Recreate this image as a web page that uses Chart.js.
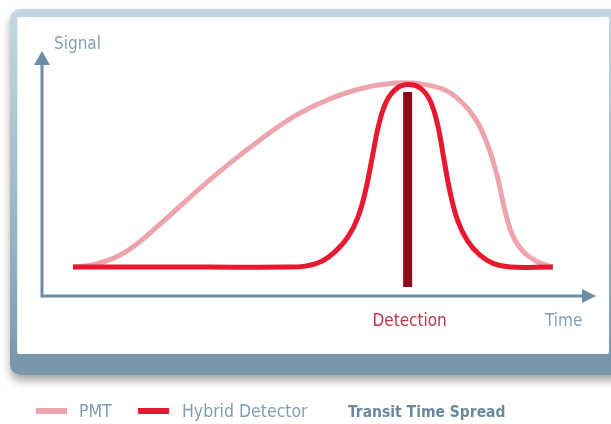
<!DOCTYPE html>
<html lang="en">
<head>
  <meta charset="UTF-8" />
  <title>Transit Time Spread</title>
  <script src="https://cdn.jsdelivr.net/npm/chart.js"></script>
  <style>
    html, body {
      margin: 0;
      padding: 0;
      width: 611px;
      height: 424px;
      overflow: hidden;
      background: #fff;
    }
    .frame {
      position: absolute;
      left: 10px;
      top: 9px;
      width: 640px;
      height: 366px;
      border-radius: 10px;
      background: linear-gradient(to bottom, #c3d5e1 0px, #c3d5e1 8px, #a9bfcd 150px, #86a0b3 320px, #7a96aa 345px);
      box-shadow: 0 6px 8px rgba(0,0,0,0.33);
    }
    .frame .inner {
      position: absolute;
      left: 8px;
      top: 8px;
      width: 591px;
      height: 337px;
      background: #fff;
      border-radius: 2px;
      box-shadow: -1px 0 0 #e6eef3;
    }
    canvas {
      position: absolute;
      left: 0;
      top: 0;
    }
  </style>
</head>
<body>
  <div class="frame"><div class="inner"></div></div>
  <canvas id="ttsChart" width="611" height="424"></canvas>

  <script>
    // time (0-100) / signal (0-100)
    const pmtTime   = [5.6, 10.0, 15.3, 21.3, 27.3, 33.4, 39.4, 45.5, 51.5, 57.5, 63.7, 68.2, 72.5, 75.5, 78.2, 80.3, 82.1, 83.5, 84.9, 86.8, 89.4, 92.2];
    const pmtSignal = [11.8, 13.2, 18.3, 29.3, 41.5, 53.3, 63.8, 73.3, 80.0, 84.6, 86.9, 86.6, 84.3, 79.7, 72.4, 62.5, 49.6, 35.5, 25.0, 18.3, 14.0, 11.8];

    const hybridTime   = [5.6, 30.0, 44.0, 47.5, 50.5, 53.0, 55.2, 57.0, 58.4, 59.6, 60.8, 62.2, 64.0, 66.1, 68.2, 70.0, 71.4, 72.5, 73.6, 75.0, 76.8, 79.0, 81.5, 84.5, 92.2];
    const hybridSignal = [11.8, 11.8, 11.8, 12.2, 14.2, 18.3, 24.0, 32.0, 43.0, 56.5, 70.0, 79.5, 84.7, 86.3, 85.0, 80.0, 70.0, 56.5, 43.0, 31.0, 22.5, 16.8, 13.2, 11.8, 11.8];

    const detectionTime = 66.0;
    const detectionSignal = [3.7, 83.3];

    const axisLabels = { y: "Signal", x: "Time", marker: "Detection" };
    const footnote = "Transit Time Spread";

    const FONT = '"DejaVu Sans Condensed", "DejaVu Sans", sans-serif';
    const AXIS = "#6b8ea4";

    function toPoints(xs, ys) {
      return xs.map((x, i) => ({ x: x, y: ys[i] }));
    }

    const decorations = {
      id: "decorations",
      beforeDatasetsDraw(chart) {
        const ctx = chart.ctx;
        const a = chart.chartArea;
        ctx.save();
        ctx.strokeStyle = AXIS;
        ctx.fillStyle = AXIS;
        ctx.lineWidth = 3;
        ctx.beginPath();
        ctx.moveTo(a.left, a.top + 12);
        ctx.lineTo(a.left, a.bottom);
        ctx.lineTo(a.right - 12, a.bottom);
        ctx.stroke();
        // arrow heads
        ctx.beginPath();
        ctx.moveTo(a.left, a.top);
        ctx.lineTo(a.left + 8, a.top + 14);
        ctx.lineTo(a.left - 8, a.top + 14);
        ctx.closePath();
        ctx.fill();
        ctx.beginPath();
        ctx.moveTo(a.right, a.bottom);
        ctx.lineTo(a.right - 14, a.bottom - 7);
        ctx.lineTo(a.right - 14, a.bottom + 7);
        ctx.closePath();
        ctx.fill();
        ctx.restore();
      },
      afterDraw(chart) {
        const ctx = chart.ctx;
        const a = chart.chartArea;
        const xs = chart.scales.x;
        ctx.save();
        ctx.textBaseline = "alphabetic";
        ctx.font = "17px " + FONT;
        ctx.fillStyle = "#82a0b2";
        ctx.textAlign = "left";
        ctx.fillText(axisLabels.y, a.left + 12, a.top - 2);
        ctx.fillText(axisLabels.x, 545, a.bottom + 30);
        ctx.fillStyle = "#bf3446";
        ctx.textAlign = "center";
        ctx.fillText(axisLabels.marker, xs.getPixelForValue(detectionTime) + 2, a.bottom + 30);

        // legend
        const pmt = chart.data.datasets.find(d => d.label === "PMT");
        const hyb = chart.data.datasets.find(d => d.label === "Hybrid Detector");
        const ly = 411;
        ctx.lineWidth = 6;
        ctx.lineCap = "butt";
        ctx.strokeStyle = pmt.borderColor;
        ctx.beginPath(); ctx.moveTo(36, ly); ctx.lineTo(67, ly); ctx.stroke();
        ctx.strokeStyle = hyb.borderColor;
        ctx.beginPath(); ctx.moveTo(138, ly); ctx.lineTo(169, ly); ctx.stroke();
        ctx.font = "17.5px " + FONT;
        ctx.fillStyle = "#7f9db0";
        ctx.textAlign = "left";
        ctx.fillText(pmt.label, 79, 417);
        ctx.fillText(hyb.label, 182, 417);
        ctx.font = "bold 15.5px " + FONT;
        ctx.fillStyle = "#6a899e";
        ctx.fillText(footnote, 348, 417);
        ctx.restore();
      }
    };

    new Chart(document.getElementById("ttsChart"), {
      type: "line",
      data: {
        datasets: [
          {
            label: "Detection",
            data: [{ x: detectionTime, y: detectionSignal[0] }, { x: detectionTime, y: detectionSignal[1] }],
            borderColor: "#8c0b1b",
            borderWidth: 9,
            borderCapStyle: "butt",
            pointRadius: 0
          },
          {
            label: "Hybrid Detector",
            data: toPoints(hybridTime, hybridSignal),
            borderColor: "#e8182e",
            borderWidth: 5,
            tension: 0.4,
            pointRadius: 0
          },
          {
            label: "PMT",
            data: toPoints(pmtTime, pmtSignal),
            borderColor: "#eca5ac",
            borderWidth: 5,
            tension: 0.4,
            pointRadius: 0
          }
        ]
      },
      options: {
        responsive: false,
        animation: false,
        events: [],
        layout: { padding: { left: 42, right: 15, top: 51, bottom: 128 } },
        scales: {
          x: { type: "linear", min: 0, max: 100, display: false },
          y: { min: 0, max: 100, display: false }
        },
        plugins: {
          legend: { display: false },
          tooltip: { enabled: false }
        }
      },
      plugins: [decorations]
    });
  </script>
</body>
</html>
